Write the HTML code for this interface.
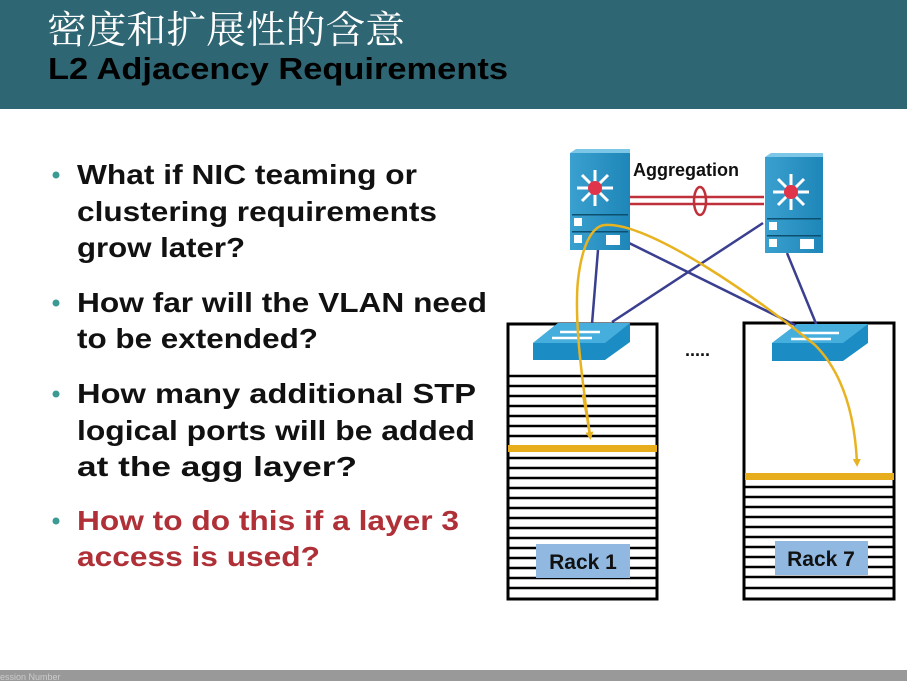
<!DOCTYPE html>
<html><head><meta charset="utf-8"><style>
html,body{margin:0;padding:0;background:#fff}
svg{display:block}
</style></head><body>
<svg width="907" height="681" viewBox="0 0 907 681" xmlns="http://www.w3.org/2000/svg" font-family="Liberation Sans, Arial, sans-serif">
<defs>
<marker id="ah" markerWidth="8" markerHeight="8" refX="4" refY="4" orient="auto" markerUnits="userSpaceOnUse">
<path d="M0,0 L8,4 L0,8 z" fill="#e8b321"/></marker>
<linearGradient id="sw" x1="0" y1="0" x2="1" y2="0"><stop offset="0" stop-color="#3aa0cf"/><stop offset="1" stop-color="#1e86b8"/></linearGradient>
</defs>
<rect x="0" y="0" width="907" height="109" fill="#2f6673"/>
<text x="47" y="43" font-family="Noto Serif CJK SC, serif" font-size="38" fill="#fff" textLength="358" lengthAdjust="spacingAndGlyphs">密度和扩展性的含意</text>
<text x="48" y="79" font-size="31" font-weight="bold" fill="#000" textLength="460" lengthAdjust="spacingAndGlyphs">L2 Adjacency Requirements</text>
<rect x="0" y="670" width="907" height="11" fill="#999"/>
<text x="0" y="680" font-size="9" fill="#ccc">ession Number</text>
<g font-size="28" font-weight="bold" fill="#111">
<circle cx="56" cy="175" r="3.5" fill="#3b9a94"/>
<text x="77" y="184" textLength="340" lengthAdjust="spacingAndGlyphs">What if NIC teaming or</text>
<text x="77" y="221" textLength="360" lengthAdjust="spacingAndGlyphs">clustering requirements</text>
<text x="77" y="257" textLength="168" lengthAdjust="spacingAndGlyphs">grow later?</text>
<circle cx="56" cy="303" r="3.5" fill="#3b9a94"/>
<text x="77" y="312" textLength="410" lengthAdjust="spacingAndGlyphs">How far will the VLAN need</text>
<text x="77" y="348" textLength="241" lengthAdjust="spacingAndGlyphs">to be extended?</text>
<circle cx="56" cy="394" r="3.5" fill="#3b9a94"/>
<text x="77" y="403" textLength="399" lengthAdjust="spacingAndGlyphs">How many additional STP</text>
<text x="77" y="440" textLength="398" lengthAdjust="spacingAndGlyphs">logical ports will be added</text>
<text x="77" y="476" textLength="280" lengthAdjust="spacingAndGlyphs">at the agg layer?</text>
<circle cx="56" cy="521" r="3.5" fill="#3b9a94"/>
<text x="77" y="530" fill="#b03038" textLength="382" lengthAdjust="spacingAndGlyphs">How to do this if a layer 3</text>
<text x="77" y="566" fill="#b03038" textLength="243" lengthAdjust="spacingAndGlyphs">access is used?</text>
</g>
<g stroke="#000" fill="none">
<rect x="508" y="324" width="149" height="275" stroke-width="3"/>
<rect x="744" y="323" width="150" height="276" stroke-width="3"/>
</g>
<g stroke="#000" stroke-width="2.5">
<line x1="508" y1="376" x2="657" y2="376"/><line x1="508" y1="386" x2="657" y2="386"/><line x1="508" y1="396" x2="657" y2="396"/><line x1="508" y1="406" x2="657" y2="406"/><line x1="508" y1="416" x2="657" y2="416"/><line x1="508" y1="426" x2="657" y2="426"/><line x1="508" y1="436" x2="657" y2="436"/>
<line x1="508" y1="458" x2="657" y2="458"/><line x1="508" y1="468" x2="657" y2="468"/><line x1="508" y1="478" x2="657" y2="478"/><line x1="508" y1="488" x2="657" y2="488"/><line x1="508" y1="498" x2="657" y2="498"/><line x1="508" y1="508" x2="657" y2="508"/><line x1="508" y1="518" x2="657" y2="518"/><line x1="508" y1="528" x2="657" y2="528"/><line x1="508" y1="538" x2="657" y2="538"/><line x1="508" y1="548" x2="657" y2="548"/><line x1="508" y1="558" x2="657" y2="558"/><line x1="508" y1="568" x2="657" y2="568"/><line x1="508" y1="578" x2="657" y2="578"/><line x1="508" y1="588" x2="657" y2="588"/>
<line x1="744" y1="487" x2="894" y2="487"/><line x1="744" y1="497" x2="894" y2="497"/><line x1="744" y1="507" x2="894" y2="507"/><line x1="744" y1="517" x2="894" y2="517"/><line x1="744" y1="527" x2="894" y2="527"/><line x1="744" y1="537" x2="894" y2="537"/><line x1="744" y1="547" x2="894" y2="547"/><line x1="744" y1="557" x2="894" y2="557"/><line x1="744" y1="567" x2="894" y2="567"/><line x1="744" y1="577" x2="894" y2="577"/><line x1="744" y1="588" x2="894" y2="588"/>
</g>
<rect x="508" y="445" width="149" height="7" fill="#e8ad1c"/>
<rect x="745" y="473" width="149" height="7" fill="#e8ad1c"/>
<rect x="536" y="544" width="94" height="34" fill="#90b8e0"/>
<text x="583" y="569" font-size="21" font-weight="bold" text-anchor="middle" fill="#111">Rack 1</text>
<rect x="775" y="541" width="93" height="34" fill="#90b8e0"/>
<text x="821" y="566" font-size="21" font-weight="bold" text-anchor="middle" fill="#111">Rack 7</text>
<text x="685" y="356" font-size="18" font-weight="bold" fill="#111">.....</text>
<g stroke="#3a3f8f" stroke-width="2.5">
<line x1="598" y1="250" x2="592" y2="324"/>
<line x1="627" y1="242" x2="797" y2="326"/>
<line x1="763" y1="223" x2="612" y2="322"/>
<line x1="787" y1="253" x2="817" y2="326"/>
</g>
<g stroke="#c0303a" stroke-width="2.5" fill="none">
<line x1="630" y1="197" x2="764" y2="197"/>
<line x1="630" y1="204" x2="764" y2="204"/>
<ellipse cx="700" cy="201" rx="6" ry="14"/>
</g>
<text x="633" y="176" font-size="18" font-weight="bold" fill="#111">Aggregation</text>
<g>
<rect x="570" y="153" width="60" height="97" fill="url(#sw)"/>
<polygon points="570,153 576,149 630,149 630,153" fill="#7cc6e8"/>
<rect x="765" y="157" width="58" height="96" fill="url(#sw)"/>
<polygon points="765,157 771,153 823,153 823,157" fill="#7cc6e8"/>
<g stroke="#fff" stroke-width="3">
<line x1="595" y1="170" x2="595" y2="206"/><line x1="577" y1="188" x2="613" y2="188"/><line x1="582" y1="175" x2="608" y2="201"/><line x1="608" y1="175" x2="582" y2="201"/>
<line x1="791" y1="174" x2="791" y2="210"/><line x1="773" y1="192" x2="809" y2="192"/><line x1="778" y1="179" x2="804" y2="205"/><line x1="804" y1="179" x2="778" y2="205"/>
</g>
<circle cx="595" cy="188" r="7" fill="#e0344a"/><circle cx="791" cy="192" r="7" fill="#e0344a"/>
<g fill="#0d4f6e"><rect x="572" y="214" width="56" height="1.5"/><rect x="767" y="218" width="54" height="1.5"/><rect x="572" y="231" width="56" height="1.5"/><rect x="767" y="235" width="54" height="1.5"/></g>
<g fill="#fff"><rect x="574" y="218" width="8" height="8"/><rect x="574" y="235" width="8" height="8"/><rect x="606" y="235" width="14" height="10"/><rect x="769" y="222" width="8" height="8"/><rect x="769" y="239" width="8" height="8"/><rect x="800" y="239" width="14" height="10"/></g>
</g>
<g>
<polygon points="533,343 558,323 630,323 630,342 605,360 533,360" fill="#1c8cc4"/>
<polygon points="533,343 558,323 630,323 605,343" fill="#45aedd"/>
<polygon points="772,343 797,324 868,324 868,343 843,361 772,361" fill="#1c8cc4"/>
<polygon points="772,343 797,324 868,324 843,343" fill="#45aedd"/>
<g stroke="#fff" stroke-width="2.5"><line x1="560" y1="332" x2="600" y2="332"/><line x1="552" y1="338" x2="592" y2="338"/><line x1="799" y1="333" x2="839" y2="333"/><line x1="791" y1="339" x2="831" y2="339"/></g>
</g>
<path d="M590,435 C582,380 574,320 578,280 C582,245 592,226 605,225 C650,222 760,300 815,345 C845,375 855,420 857,463" fill="none" stroke="#e8b321" stroke-width="2.5" marker-end="url(#ah)"/>
<path d="M583,395 C586,410 588,422 590,436" fill="none" stroke="#e8b321" stroke-width="2.5" marker-end="url(#ah)"/>
</svg>
</body></html>
